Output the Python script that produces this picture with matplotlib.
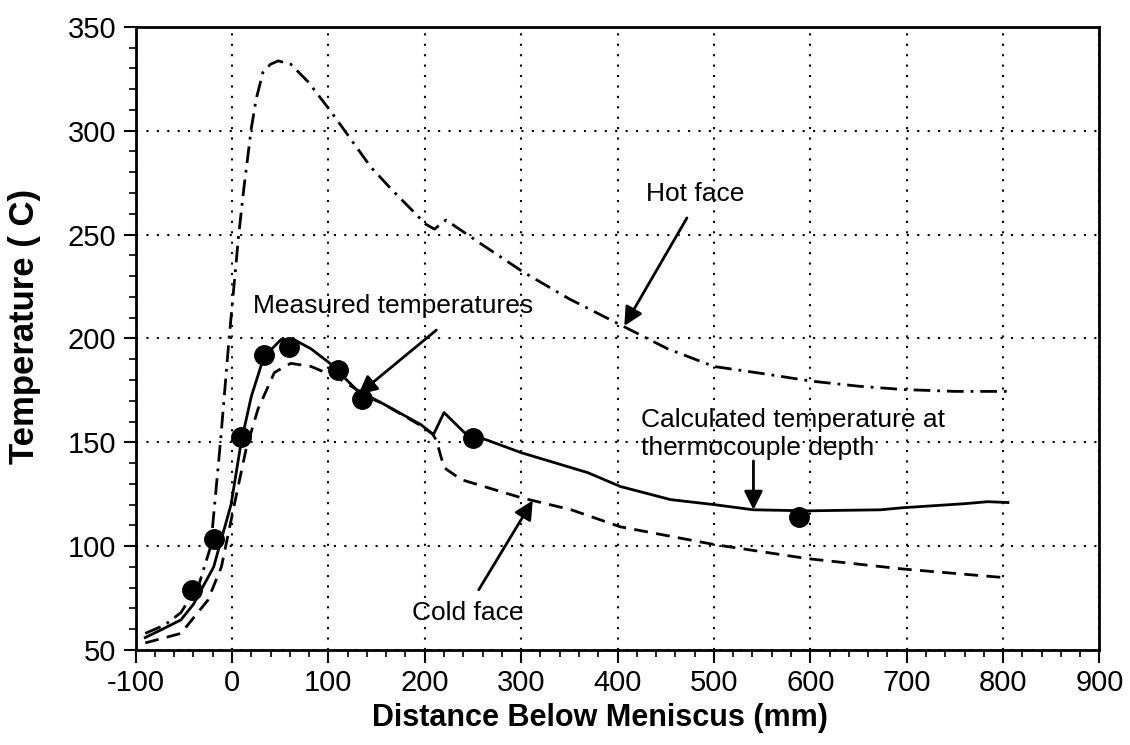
import matplotlib.pyplot as plt
import numpy as np

plt.rcParams['font.family'] = ['Liberation Sans', 'DejaVu Sans']
plt.rcParams['axes.unicode_minus'] = False

# hot face (dash-dot)
hot_x = [-90, -70, -53, -34, -22, -12, -3, 7, 12.5, 20, 25, 32, 40, 48, 61, 79, 103, 144,
         165, 201, 210, 222, 260, 302, 350, 401, 452, 500, 556, 600, 650, 696, 750, 805]
hot_y = [58, 62, 68, 82, 100, 150, 200, 250, 273, 301, 315, 328, 332, 333.6, 332, 323.5,
         309, 282.5, 272, 255, 252.6, 257, 245, 232, 219, 207, 195, 186.5, 182.7, 179.5,
         177, 175.4, 174.5, 174.5]

# calculated temperature at thermocouple depth (solid)
calc_x = [-90, -74, -53, -40, -19, -1, 9.5, 20, 33, 51, 64, 82, 103, 134, 155, 196, 209,
          220, 241, 265, 300, 369, 403, 455, 500, 541, 597, 673, 696, 759, 784, 805]
calc_y = [56, 59.6, 64.5, 72, 90, 120, 150, 172, 191, 199.5, 199.5, 195, 187.5, 173, 169,
          158.5, 153.7, 164.3, 154.7, 151, 145, 135.4, 128.7, 122.4, 120, 117.5, 117,
          117.5, 118.5, 120.4, 121.4, 121]

# cold face (dashed)
cold_x = [-90, -53, -25, -11, 2, 14.5, 27, 44, 61, 82, 110, 134, 155, 196, 208, 212,
          220, 238, 300, 352, 403, 500, 597, 696, 805]
cold_y = [53.4, 58, 74, 90, 119, 146.5, 166, 183.6, 188, 186.5, 181, 174, 169, 158,
          154, 151, 137.8, 132, 123.3, 117.5, 109.3, 100.8, 94, 89, 84.7]

# measured temperatures
meas_x = [-42, -19, 9, 33, 59, 110, 135, 250, 588]
meas_y = [79, 103.5, 152.7, 192, 196, 185, 170.6, 152, 114]

fig = plt.figure(figsize=(11.3, 7.45), dpi=100)
ax = fig.add_axes([0.120, 0.1275, 0.853, 0.8365])

ax.plot(hot_x, hot_y, color='black', lw=2, linestyle=(0, (6, 2.5, 1, 2.5)))
ax.plot(calc_x, calc_y, color='black', lw=2)
ax.plot(cold_x, cold_y, color='black', lw=2, linestyle=(0, (5, 3)))
ax.plot(meas_x, meas_y, 'o', color='black', markersize=14)

ax.set_xlim(-100, 900)
ax.set_ylim(50, 350)
ax.set_xticks(np.arange(-100, 901, 100))
ax.set_yticks(np.arange(50, 351, 50))
ax.set_xticks(np.arange(-100, 901, 20), minor=True)
ax.set_yticks(np.arange(50, 351, 10), minor=True)
ax.tick_params(which='major', length=9, width=1.5, labelsize=21, direction='out', pad=5)
ax.tick_params(which='minor', length=5, width=1.2, direction='out')
ax.grid(True, which='major', color='black', linestyle=(0, (1, 4)), lw=1.5)
for s in ax.spines.values():
    s.set_linewidth(2)

ax.set_xlabel('Distance Below Meniscus (mm)', fontsize=22, fontweight='bold', labelpad=10)
ax.xaxis.set_label_coords(0.482, -0.085)
ax.set_ylabel('Temperature ( C)', fontsize=25, fontweight='bold')
ax.yaxis.set_label_coords(-0.098, 0.519)

arrow = dict(arrowstyle='-|>', color='black', lw=2, mutation_scale=28, shrinkA=0, shrinkB=0)
txt = dict(fontsize=19, va='center')

ax.annotate('Hot face', xy=(407, 206), xytext=(481, 269.5), ha='center', **txt)
ax.annotate('', xy=(407, 206), xytext=(472, 258), arrowprops=arrow)

ax.annotate('Measured temperatures', xy=(131, 173), xytext=(167, 215.5), ha='center', **txt)
ax.annotate('', xy=(131, 173), xytext=(212, 204), arrowprops=arrow)

ax.annotate('Calculated temperature at\nthermocouple depth', xy=(541, 117.5),
            xytext=(424, 154), ha='left', linespacing=1.25, **txt)
ax.annotate('', xy=(541, 117.5), xytext=(541, 141), arrowprops=arrow)

ax.annotate('Cold face', xy=(312, 122), xytext=(245, 68), ha='center', **txt)
ax.annotate('', xy=(312, 122), xytext=(256, 79), arrowprops=arrow)

fig.savefig('out.png', dpi=100)
